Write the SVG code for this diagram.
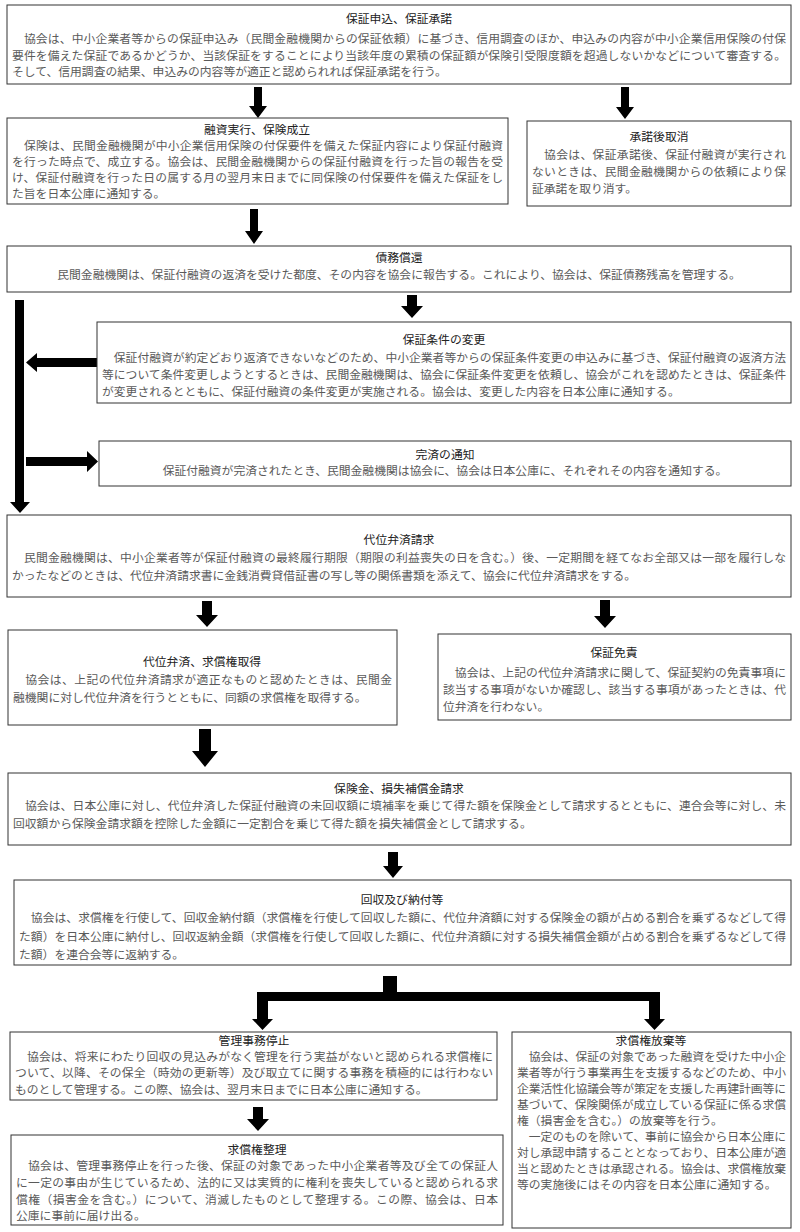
<svg xmlns="http://www.w3.org/2000/svg" width="800" height="1232" viewBox="0 0 800 1232">
<style>
.box{fill:#fff;stroke:#333;stroke-width:1}
text{font-family:"Noto Sans CJK JP","Noto Sans CJK SC",sans-serif;font-size:11.8px}
.h{fill:#222;text-anchor:middle}
.t{fill:#5a5a5a}
.c{fill:#5a5a5a;text-anchor:middle}
.arr{fill:#000}
</style>
<rect width="800" height="1232" fill="#fff"/>
<g id="connectors">
<polygon class="arr" points="254,87 262,87 262,106 267,106 258,118 249,106 254,106"/>
<polygon class="arr" points="621,87 629,87 629,107 634,107 625,119 616,107 621,107"/>
<polygon class="arr" points="250,209 258,209 258,231 263,231 254,244 245,231 250,231"/>
<polygon class="arr" points="15,300 24,300 24,502 30,502 20,513 10,502 15,502"/>
<polygon class="arr" points="407,295 417,295 417,306 423,306 412,318 401,306 407,306"/>
<polygon class="arr" points="97,358 97,367 37,367 37,372 26,362.5 37,353 37,358"/>
<polygon class="arr" points="26,457 26,466 87,466 87,472 98,461.5 87,451 87,457"/>
<polygon class="arr" points="202,601 212,601 212,615 218,615 207,627 196,615 202,615"/>
<polygon class="arr" points="600,600 610,600 610,616 616,616 605,628 594,616 600,616"/>
<polygon class="arr" points="199,729 211,729 211,751 218,751 205,767 192,751 199,751"/>
<polygon class="arr" points="388,852 398,852 398,866 403,866 393,878 383,866 388,866"/>
<path class="arr" d="M383,976 H397 V992 H660 V1019 H665 L654.5,1030 L644,1019 H649 V1001 H268 V1019 H273 L262.5,1030 L252,1019 H257 V992 H383 Z"/>
<polygon class="arr" points="253,1107 263,1107 263,1119 269,1119 258,1131 247,1119 253,1119"/>
</g>
<g id="n1">
<rect class="box" x="7" y="5" width="784" height="79"/>
<text class="h" x="399" y="23">保証申込、保証承諾</text>
<text class="t" x="12" y="43" textLength="774" lengthAdjust="spacing">　協会は、中小企業者等からの保証申込み（民間金融機関からの保証依頼）に基づき、信用調査のほか、申込みの内容が中小企業信用保険の付保</text>
<text class="t" x="12" y="60" textLength="774" lengthAdjust="spacing">要件を備えた保証であるかどうか、当該保証をすることにより当該年度の累積の保証額が保険引受限度額を超過しないかなどについて審査する。</text>
<text class="t" x="12" y="76">そして、信用調査の結果、申込みの内容等が適正と認められれば保証承諾を行う。</text>
</g>
<g id="n2">
<rect class="box" x="7" y="118" width="501" height="86"/>
<text class="h" x="257" y="134">融資実行、保険成立</text>
<text class="t" x="12" y="150" textLength="491" lengthAdjust="spacing">　保険は、民間金融機関が中小企業信用保険の付保要件を備えた保証内容により保証付融資</text>
<text class="t" x="12" y="166" textLength="491" lengthAdjust="spacing">を行った時点で、成立する。協会は、民間金融機関からの保証付融資を行った旨の報告を受</text>
<text class="t" x="12" y="182" textLength="491" lengthAdjust="spacing">け、保証付融資を行った日の属する月の翌月末日までに同保険の付保要件を備えた保証をし</text>
<text class="t" x="12" y="198">た旨を日本公庫に通知する。</text>
</g>
<g id="n3">
<rect class="box" x="527" y="121" width="264" height="85"/>
<text class="h" x="659" y="141">承諾後取消</text>
<text class="t" x="532" y="159" textLength="254" lengthAdjust="spacing">　協会は、保証承諾後、保証付融資が実行され</text>
<text class="t" x="532" y="176" textLength="254" lengthAdjust="spacing">ないときは、民間金融機関からの依頼により保</text>
<text class="t" x="532" y="193">証承諾を取り消す。</text>
</g>
<g id="n4">
<rect class="box" x="7" y="246" width="784" height="46"/>
<text class="h" x="399" y="262">債務償還</text>
<text class="c" x="399" y="279">民間金融機関は、保証付融資の返済を受けた都度、その内容を協会に報告する。これにより、協会は、保証債務残高を管理する。</text>
</g>
<g id="n5">
<rect class="box" x="97" y="322" width="694" height="81"/>
<text class="h" x="444" y="344">保証条件の変更</text>
<text class="t" x="102" y="362" textLength="684" lengthAdjust="spacing">　保証付融資が約定どおり返済できないなどのため、中小企業者等からの保証条件変更の申込みに基づき、保証付融資の返済方法</text>
<text class="t" x="102" y="379" textLength="684" lengthAdjust="spacing">等について条件変更しようとするときは、民間金融機関は、協会に保証条件変更を依頼し、協会がこれを認めたときは、保証条件</text>
<text class="t" x="102" y="396">が変更されるとともに、保証付融資の条件変更が実施される。協会は、変更した内容を日本公庫に通知する。</text>
</g>
<g id="n6">
<rect class="box" x="99" y="441" width="692" height="45"/>
<text class="h" x="445" y="459">完済の通知</text>
<text class="c" x="445" y="475">保証付融資が完済されたとき、民間金融機関は協会に、協会は日本公庫に、それぞれその内容を通知する。</text>
</g>
<g id="n7">
<rect class="box" x="7" y="515" width="784" height="82"/>
<text class="h" x="399" y="544">代位弁済請求</text>
<text class="t" x="12" y="562" textLength="774" lengthAdjust="spacing">　民間金融機関は、中小企業者等が保証付融資の最終履行期限（期限の利益喪失の日を含む。）後、一定期間を経てなお全部又は一部を履行しな</text>
<text class="t" x="12" y="580">かったなどのときは、代位弁済請求書に金銭消費貸借証書の写し等の関係書類を添えて、協会に代位弁済請求をする。</text>
</g>
<g id="n8">
<rect class="box" x="8" y="630" width="389" height="95"/>
<text class="h" x="202" y="666">代位弁済、求償権取得</text>
<text class="t" x="13" y="684" textLength="379" lengthAdjust="spacing">　協会は、上記の代位弁済請求が適正なものと認めたときは、民間金</text>
<text class="t" x="13" y="702">融機関に対し代位弁済を行うとともに、同額の求償権を取得する。</text>
</g>
<g id="n9">
<rect class="box" x="438" y="634" width="353" height="86"/>
<text class="h" x="614" y="657">保証免責</text>
<text class="t" x="443" y="677" textLength="343" lengthAdjust="spacing">　協会は、上記の代位弁済請求に関して、保証契約の免責事項に</text>
<text class="t" x="443" y="694" textLength="343" lengthAdjust="spacing">該当する事項がないか確認し、該当する事項があったときは、代</text>
<text class="t" x="443" y="711">位弁済を行わない。</text>
</g>
<g id="n10">
<rect class="box" x="8" y="773" width="783" height="72"/>
<text class="h" x="399" y="793">保険金、損失補償金請求</text>
<text class="t" x="13" y="810" textLength="773" lengthAdjust="spacing">　協会は、日本公庫に対し、代位弁済した保証付融資の未回収額に填補率を乗じて得た額を保険金として請求するとともに、連合会等に対し、未</text>
<text class="t" x="13" y="828">回収額から保険金請求額を控除した金額に一定割合を乗じて得た額を損失補償金として請求する。</text>
</g>
<g id="n11">
<rect class="box" x="14" y="880" width="777" height="85"/>
<text class="h" x="402" y="904">回収及び納付等</text>
<text class="t" x="19" y="922" textLength="767" lengthAdjust="spacing">　協会は、求償権を行使して、回収金納付額（求償権を行使して回収した額に、代位弁済額に対する保険金の額が占める割合を乗ずるなどして得</text>
<text class="t" x="19" y="941" textLength="767" lengthAdjust="spacing">た額）を日本公庫に納付し、回収返納金額（求償権を行使して回収した額に、代位弁済額に対する損失補償金額が占める割合を乗ずるなどして得</text>
<text class="t" x="19" y="959">た額）を連合会等に返納する。</text>
</g>
<g id="n12">
<rect class="box" x="10" y="1032" width="487" height="68"/>
<text class="h" x="254" y="1045">管理事務停止</text>
<text class="t" x="15" y="1061" textLength="478" lengthAdjust="spacing">　協会は、将来にわたり回収の見込みがなく管理を行う実益がないと認められる求償権に</text>
<text class="t" x="15" y="1077" textLength="478" lengthAdjust="spacing">ついて、以降、その保全（時効の更新等）及び取立てに関する事務を積極的には行わない</text>
<text class="t" x="15" y="1094">ものとして管理する。この際、協会は、翌月末日までに日本公庫に通知する。</text>
</g>
<g id="n13">
<rect class="box" x="512" y="1032" width="279" height="196"/>
<text class="h" x="651" y="1045">求償権放棄等</text>
<text class="t" x="517" y="1061" textLength="269" lengthAdjust="spacing">　協会は、保証の対象であった融資を受けた中小企</text>
<text class="t" x="517" y="1077" textLength="269" lengthAdjust="spacing">業者等が行う事業再生を支援するなどのため、中小</text>
<text class="t" x="517" y="1093" textLength="269" lengthAdjust="spacing">企業活性化協議会等が策定を支援した再建計画等に</text>
<text class="t" x="517" y="1109" textLength="269" lengthAdjust="spacing">基づいて、保険関係が成立している保証に係る求償</text>
<text class="t" x="517" y="1125">権（損害金を含む。）の放棄等を行う。</text>
<text class="t" x="517" y="1141" textLength="269" lengthAdjust="spacing">　一定のものを除いて、事前に協会から日本公庫に</text>
<text class="t" x="517" y="1157" textLength="269" lengthAdjust="spacing">対し承認申請することとなっており、日本公庫が適</text>
<text class="t" x="517" y="1173" textLength="269" lengthAdjust="spacing">当と認めたときは承認される。協会は、求償権放棄</text>
<text class="t" x="517" y="1189">等の実施後にはその内容を日本公庫に通知する。</text>
</g>
<g id="n14">
<rect class="box" x="11" y="1135" width="492" height="90"/>
<text class="h" x="257" y="1154">求償権整理</text>
<text class="t" x="16" y="1170" textLength="482" lengthAdjust="spacing">　協会は、管理事務停止を行った後、保証の対象であった中小企業者等及び全ての保証人</text>
<text class="t" x="16" y="1187" textLength="482" lengthAdjust="spacing">に一定の事由が生じているため、法的に又は実質的に権利を喪失していると認められる求</text>
<text class="t" x="16" y="1204" textLength="482" lengthAdjust="spacing">償権（損害金を含む。）について、消滅したものとして整理する。この際、協会は、日本</text>
<text class="t" x="16" y="1220">公庫に事前に届け出る。</text>
</g>
</svg>
